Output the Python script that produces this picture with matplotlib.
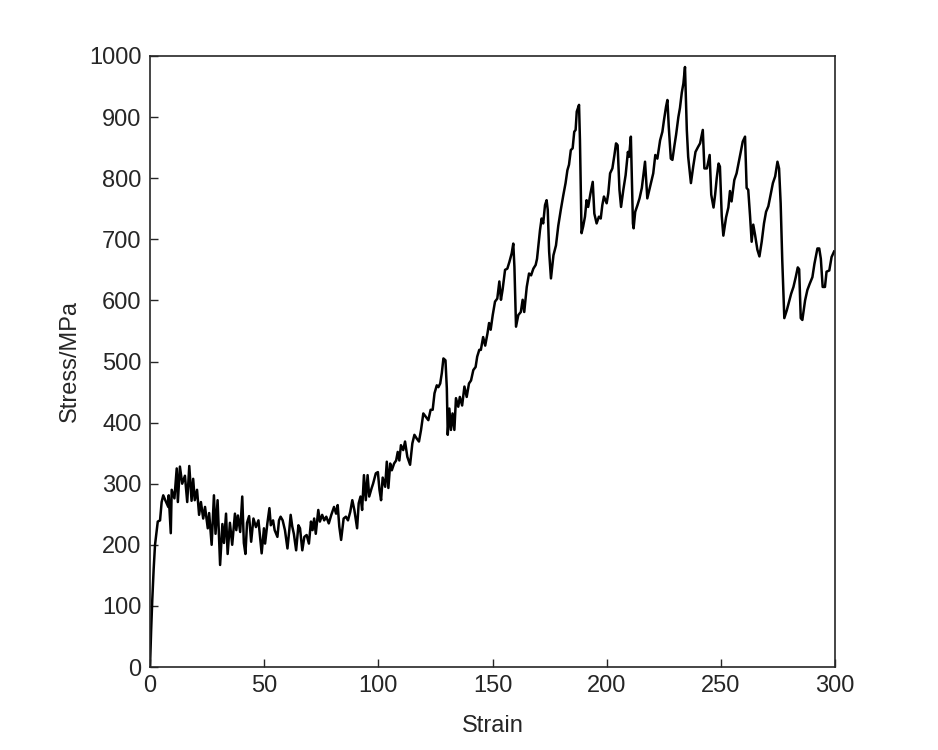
import numpy as np
import matplotlib
matplotlib.use('Agg')
import matplotlib.pyplot as plt

plt.rcParams['font.family'] = ['Liberation Sans', 'DejaVu Sans']

# strain / stress
strain = [0, 0.5, 1.0, 1.6, 2.2, 3.4, 4.4, 5.1, 5.8, 6.7, 8.0, 8.2, 9.1, 9.5, 10.7, 11.7, 12.2, 13.1, 14.1, 15.3,
          16.3, 17.2, 18.2, 18.9, 19.6, 20.6, 21.5, 22.3, 23.3, 24.1, 25.3, 25.9, 27.0, 28.0, 28.7, 29.6, 30.7, 31.7,
          32.4, 33.3, 34.0, 35.0, 36.0, 37.2, 37.8, 38.5, 39.5, 40.4, 41.1, 41.8, 42.5, 43.4, 44.3, 45.3, 46.4, 47.5,
          48.9, 49.9, 50.4, 51.4, 52.3, 52.9, 53.9, 54.6, 55.8, 56.5, 57.2, 58.1, 59.1, 60.2, 61.0, 61.6, 62.3, 63.0,
          64.0, 65.0, 65.7, 66.7, 67.6, 68.6, 69.6, 70.5, 71.2, 71.9, 72.6, 73.7, 74.4, 75.4, 76.3, 77.2, 78.3, 79.4,
          80.6, 81.5, 82.2, 82.9, 83.7, 84.8, 85.8, 86.7, 87.7, 88.6, 89.5, 90.7, 91.4, 92.2, 92.9, 93.7, 94.5, 95.3,
          96.0, 97.0, 97.7, 98.9, 99.8, 100.5, 101.2, 101.9, 103.0, 103.7, 104.4, 105.2, 105.9, 106.9, 107.8, 108.5,
          109.2, 109.9, 110.9, 111.7, 112.7, 113.9, 114.9, 115.8, 116.8, 117.8, 118.7, 119.7, 120.9, 121.9, 122.9,
          123.8, 124.6, 125.6, 126.3, 127.1, 127.8, 128.5, 129.4, 130.0, 130.4, 131.1, 131.8, 132.5, 133.3, 134.0,
          135.0, 135.7, 136.7, 137.7, 138.7, 139.7, 140.6, 141.6, 142.6, 143.3, 144.2, 144.9, 145.9, 146.8, 147.8,
          148.5, 149.2, 150.1, 151.1, 152.1, 153.0, 153.7, 154.4, 155.5, 156.5, 157.4, 158.4, 159.1, 159.6, 160.3,
          161.3, 162.4, 163.2, 163.9, 165.0, 166.0, 166.9, 167.9, 168.9, 169.5, 170.8, 171.5, 172.2, 173.0, 173.7,
          174.2, 174.8, 175.6, 176.7, 177.8, 178.8, 179.9, 181.0, 182.0, 182.8, 183.5, 184.3, 185.1, 185.8, 186.4,
          186.9, 187.9, 188.3, 189.0, 189.7, 190.5, 191.2, 191.9, 192.9, 193.9, 194.6, 195.6, 196.6, 197.4, 198.1,
          198.8, 200.0, 200.7, 201.5, 202.5, 203.4, 204.1, 204.8, 205.6, 206.3, 207.3, 208.3, 209.3, 209.8, 210.6,
          211.5, 211.8, 212.5, 213.5, 214.4, 215.4, 216.1, 216.8, 217.8, 218.7, 219.7, 220.4, 221.3, 222.2, 223.4,
          224.4, 225.1, 226.0, 226.6, 227.2, 228.1, 228.8, 229.7, 230.4, 231.4, 232.1, 232.9, 233.6, 234.3, 235.1,
          235.7, 236.9, 237.9, 238.9, 240.0, 240.9, 242.1, 242.8, 243.9, 245.1, 245.8, 246.8, 247.5, 248.2, 249.0,
          249.6, 250.4, 251.1, 252.3, 253.3, 254.0, 254.7, 255.9, 256.9, 257.9, 258.7, 259.6, 260.6, 261.3, 262.0,
          262.8, 263.5, 264.2, 265.0, 266.0, 266.9, 267.9, 268.9, 269.8, 270.8, 271.9, 272.8, 273.8, 274.8, 275.5,
          276.2, 276.9, 277.8, 278.9, 280.0, 280.8, 281.8, 282.8, 283.7, 284.3, 285.0, 285.7, 286.9, 287.9, 288.9,
          290.1, 291.0, 292.3, 293.1, 293.8, 294.6, 295.6, 296.3, 297.5, 298.5, 299.6]
stress = [0, 60, 110, 160, 200, 238, 240, 270, 281, 273, 262, 281, 219, 290, 276, 325, 270, 328, 300, 313,
          270, 329, 272, 308, 273, 290, 249, 270, 243, 262, 227, 252, 200, 281, 218, 273, 167, 234,
          203, 251, 185, 236, 200, 251, 224, 248, 221, 279, 203, 185, 236, 247, 205, 243, 229, 240,
          186, 227, 202, 235, 260, 232, 240, 224, 213, 240, 246, 240, 224, 194, 224, 249, 230, 218,
          191, 232, 227, 191, 213, 216, 202, 238, 224, 243, 218, 257, 238, 249, 240, 246, 235, 249,
          262, 251, 265, 230, 208, 243, 246, 240, 254, 273, 257, 227, 268, 279, 257, 314, 273, 314,
          279, 292, 300, 317, 319, 290, 273, 310, 295, 336, 293, 333, 322, 333, 338, 352,
          338, 363, 355, 369, 344, 331, 366, 380, 374, 369, 388, 415, 409, 404, 421,
          421, 448, 461, 458, 464, 481, 505, 502, 456, 380, 423, 388, 415, 388, 440,
          426, 442, 428, 459, 442, 464, 469, 486, 491, 508, 519, 519, 540, 526, 546,
          563, 552, 576, 598, 603, 631, 601, 617, 650, 652, 663, 677, 693, 655, 557,
          576, 581, 601, 581, 622, 644, 641, 652, 658, 668, 715, 734, 726, 756, 764,
          748, 680, 636, 674, 690, 722, 748, 772, 792, 813, 822, 846, 849, 876, 879,
          909, 920, 862, 710, 721, 737, 764, 753, 775, 794, 742, 726, 737, 734, 756,
          770, 759, 775, 808, 816, 838, 857, 854, 781, 753, 781, 805, 843, 835, 868,
          726, 718, 745, 756, 767, 784, 805, 827, 767, 781, 797, 808, 838, 832, 862,
          876, 895, 917, 928, 884, 832, 830, 854, 871, 900, 915, 940, 955, 982, 879,
          835, 792, 819, 843, 851, 857, 879, 816, 816, 838, 773, 752, 773, 800, 824,
          819, 738, 706, 736, 752, 779, 762, 797, 808, 827, 843, 860, 868, 784, 781,
          738, 696, 724, 707, 683, 672, 696, 726, 745, 754, 775, 792, 803, 827, 816,
          759, 666, 571, 584, 600, 611, 622, 638, 654, 651, 571, 568, 600, 617, 627,
          638, 660, 685, 685, 668, 622, 622, 647, 649, 671, 680]

xticks = [0, 50, 100, 150, 200, 250, 300]
yticks = [0, 100, 200, 300, 400, 500, 600, 700, 800, 900, 1000]

fig = plt.figure(figsize=(9.38, 7.5), dpi=100)
ax = fig.add_axes([150 / 938, 83 / 750, 685 / 938, 611 / 750])

ax.plot(strain, stress, color='black', linewidth=1.8)

ax.set_xlim(0, 300)
ax.set_ylim(0, 1000)
ax.set_xticks(xticks)
ax.set_yticks(yticks)

txt = '#262626'
for s in ax.spines.values():
    s.set_color(txt)
    s.set_linewidth(1.2)
ax.tick_params(direction='in', length=6, width=1, colors=txt, labelsize=17, pad=6,
               top=False, right=False)
ax.set_xlabel('Strain', fontsize=17, color=txt, labelpad=13)
ax.set_ylabel('Stress/MPa', fontsize=17, color=txt, labelpad=6)

fig.savefig('out.png', dpi=100)
